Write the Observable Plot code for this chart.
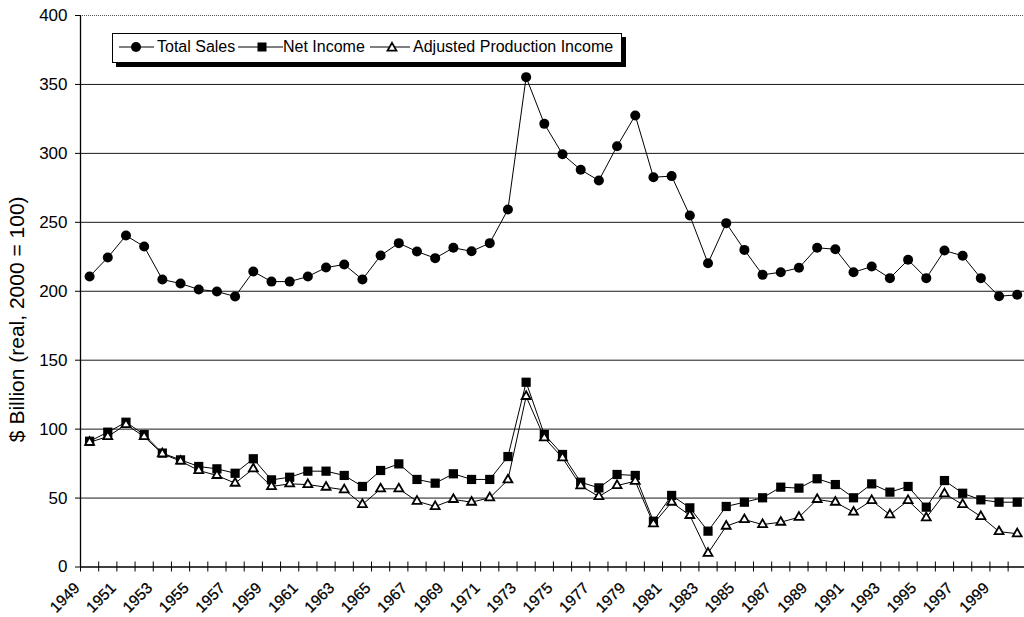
<!DOCTYPE html>
<html><head><meta charset="utf-8">
<script src="https://cdn.jsdelivr.net/npm/d3@7"></script>
<script src="https://cdn.jsdelivr.net/npm/@observablehq/plot@0.6"></script>
<style>
body{margin:0;background:#fff;font-family:"Liberation Sans",Arial,sans-serif;}
#wrap{position:relative;width:1024px;height:617px;overflow:hidden;background:#fff;}
#legend{position:absolute;left:112px;top:33px;width:508px;height:28px;border:1px solid #000;background:#fff;box-shadow:4px 4px 0 #000;font-size:16px;color:#000;}
#legend .sym{position:absolute;top:0;}
#legend .lab{position:absolute;top:4px;line-height:18px;white-space:nowrap;}
</style></head><body>
<div id="wrap"><div id="chart"></div><div id="legend"></div></div>
<script>
const years = [1949,1950,1951,1952,1953,1954,1955,1956,1957,1958,1959,1960,1961,1962,1963,1964,1965,1966,1967,1968,1969,1970,1971,1972,1973,1974,1975,1976,1977,1978,1979,1980,1981,1982,1983,1984,1985,1986,1987,1988,1989,1990,1991,1992,1993,1994,1995,1996,1997,1998,1999,2000];
const totalSales = [210.7,224.5,240.4,232.4,208.5,205.6,201.3,199.8,196.2,214.3,207,207,210.7,217.2,219.4,208.5,225.9,234.9,228.8,224,231.5,229,234.9,259.3,355.3,321.4,299.4,288.1,280.3,305.2,327.5,282.7,283.5,254.9,220.3,249.4,230.0,211.9,213.8,217,231.5,230.5,213.8,217.9,209.5,222.8,209.5,229.5,225.7,209.5,196.4,197.4];
const netIncome = [91.2,97.8,105,96,82.6,77.7,72.9,71.2,68,78.5,63.2,65.1,69.5,69.5,66.4,58.4,70,74.8,63.5,60.8,67.6,63.5,63.5,80.1,134,96.1,81.6,61.5,57.4,67.1,66.4,33.2,51.9,42.9,26,43.9,47,50.2,57.9,57.2,64,59.8,50.2,60.3,54.3,58.4,43.4,62.7,53.5,48.7,47,47];
const adjustedIncome = [90.5,94.6,103.3,94.6,82.1,76.8,70,66.4,60.8,71.2,58.4,60.3,59.8,57.9,56,45.3,56.7,56.7,47.7,43.9,49,47,50.2,63.2,123.7,93.7,79.2,58.9,51.1,59.1,62.2,31.3,47,37.4,10,29.6,34.4,30.8,32.5,36.1,49,47,39.8,48.2,37.9,48.2,35.7,53.1,45.3,36.6,25.7,24.1];
const xTickLabels = [1949,1951,1953,1955,1957,1959,1961,1963,1965,1967,1969,1971,1973,1975,1977,1979,1981,1983,1985,1987,1989,1991,1993,1995,1997,1999];
const yTicks = [0,50,100,150,200,250,300,350,400];
const gridLines = [50,100,150,200,250,300,350];
const seriesNames = ["Total Sales","Net Income","Adjusted Production Income"];
const yTitle = "$ Billion (real, 2000 = 100)";

const table = years.map((y,i)=>({year:y, sales:totalSales[i], net:netIncome[i], adj:adjustedIncome[i]}));
const edges = years.map(y => y - 0.5);
const font = "Liberation Sans, Arial, sans-serif";

const chart = Plot.plot({
  width: 1024, height: 617,
  marginTop: 15, marginBottom: 50.5, marginLeft: 80, marginRight: 0,
  style: {fontFamily: font, background: "#fff", color: "#000"},
  x: {type: "linear", domain: [1948.5, 2000.4], axis: null},
  y: {domain: [0, 400], axis: null},
  marks: [
    Plot.ruleY(gridLines, {stroke: "#1a1a1a", strokeWidth: 1}),
    Plot.ruleY([400], {stroke: "#555", strokeDasharray: "1,1"}),
    Plot.ruleX([edges[0]], {stroke: "#000", strokeWidth: 1.3}),
    Plot.ruleY([0], {stroke: "#000", strokeWidth: 1.3}),
    Plot.ruleX(edges, {x: d => d, y1: 0, y2: 0, insetTop: -5, insetBottom: -5, stroke: "#000"}),
    Plot.axisY({ticks: yTicks, tickSize: 5, tickPadding: 8, fontSize: 17, label: null, stroke: "#000", style: {letterSpacing: "1px"}}),
    Plot.text(xTickLabels, {x: d => d, text: d => String(d), frameAnchor: "bottom", rotate: -45, textAnchor: "end", lineAnchor: "bottom", dx: -9, dy: 22, fontSize: 15.5, fill: "#000", stroke: "#000", strokeWidth: 0.25}),
    Plot.text([yTitle], {frameAnchor: "left", textAnchor: "middle", rotate: -90, dx: -63, dy: 28, fontSize: 21, fill: "#000", style: {letterSpacing: "1.7px"}}),
    Plot.line(table, {x: "year", y: "sales", stroke: "#000", strokeWidth: 1}),
    Plot.line(table, {x: "year", y: "net", stroke: "#000", strokeWidth: 1}),
    Plot.line(table, {x: "year", y: "adj", stroke: "#000", strokeWidth: 1}),
    Plot.dot(table, {x: "year", y: "sales", r: 5, fill: "#000", symbol: "circle"}),
    Plot.dot(table, {x: "year", y: "net", r: 5.2, fill: "#000", symbol: "square"}),
    Plot.dot(table, {x: "year", y: "adj", r: 3.3, fill: "#fff", stroke: "#000", strokeWidth: 1.8, symbol: "triangle"})
  ]
});
document.getElementById("chart").appendChild(chart);

// legend
const legend = d3.select("#legend");
const items = [
  {name: seriesNames[0], symLeft: 6, symW: 35, cx: 17, lab: 44, sym: "circle"},
  {name: seriesNames[1], symLeft: 125, symW: 45, cx: 24, lab: 170, sym: "square"},
  {name: seriesNames[2], symLeft: 257, symW: 40, cx: 22, lab: 300, sym: "triangle"}
];
items.forEach(it => {
  const s = legend.append("svg").attr("class","sym").style("left", it.symLeft+"px").attr("width", it.symW).attr("height", 28);
  s.append("line").attr("x1",0).attr("x2",it.symW).attr("y1",13).attr("y2",13).attr("stroke","#000");
  if (it.sym === "circle") s.append("circle").attr("cx",it.cx).attr("cy",13).attr("r",5).attr("fill","#000");
  if (it.sym === "square") s.append("rect").attr("x",it.cx-4.5).attr("y",8.5).attr("width",9).attr("height",9).attr("fill","#000");
  if (it.sym === "triangle") s.append("path").attr("transform",`translate(${it.cx},14)`).attr("d", d3.symbol(d3.symbolTriangle, Math.PI*3.3*3.3)()).attr("fill","#fff").attr("stroke","#000").attr("stroke-width",1.8);
  legend.append("span").attr("class","lab").style("left", it.lab+"px").text(it.name);
});
</script>
</body></html>
